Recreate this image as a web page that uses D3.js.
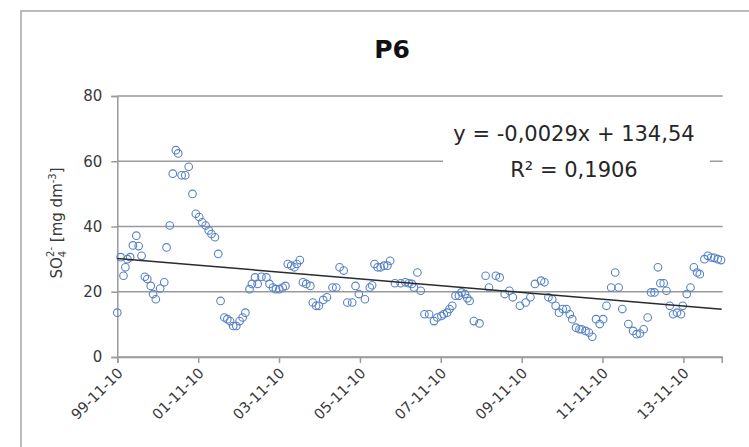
<!DOCTYPE html>
<html>
<head>
<meta charset="utf-8">
<script src="https://cdn.jsdelivr.net/npm/d3@7"></script>
<style>
  html, body { margin: 0; padding: 0; background: #ffffff; }
  svg { display: block; font-family: "DejaVu Sans", "Liberation Sans", sans-serif; }
</style>
</head>
<body>
<div id="chartP6"></div>
<script>
////////////////////////////////////////////////////////////////////////
// Data
////////////////////////////////////////////////////////////////////////
var sampleDates = [
  "1999-11-10","1999-12-10","2000-01-05","2000-01-22","2000-02-09","2000-03-05","2000-03-30","2000-04-30",
  "2000-05-21","2000-06-16","2000-07-16","2000-08-07","2000-09-07","2000-09-28","2000-10-23","2000-12-01",
  "2001-01-07","2001-01-28","2001-02-26","2001-03-25","2001-04-22","2001-05-13","2001-06-13","2001-07-16",
  "2001-08-16","2001-09-19","2001-10-19","2001-11-19","2001-12-16","2002-01-16","2002-02-13","2002-03-10",
  "2002-04-10","2002-05-10","2002-05-31","2002-07-04","2002-07-31","2002-08-25","2002-09-22","2002-10-20",
  "2002-11-19","2002-12-16","2003-01-10","2003-02-16","2003-03-10","2003-04-07","2003-05-01","2003-06-04",
  "2003-07-19","2003-08-16","2003-09-16","2003-10-13","2003-11-13","2003-12-13","2004-01-07","2004-01-28",
  "2004-02-28","2004-03-28","2004-04-19","2004-05-16","2004-06-13","2004-07-13","2004-08-19","2004-09-10",
  "2004-10-10","2004-11-04","2004-12-13","2005-01-16","2005-03-07","2005-04-10","2005-05-10","2005-06-16",
  "2005-07-19","2005-09-01","2005-10-01","2005-10-31","2005-12-25","2006-02-07","2006-02-28","2006-03-22",
  "2006-04-19","2006-05-16","2006-06-16","2006-07-16","2006-08-10","2006-09-22","2006-11-13","2006-12-25",
  "2007-01-25","2007-02-22","2007-03-13","2007-04-13","2007-05-13","2007-06-16","2007-07-28","2007-09-10",
  "2007-10-10","2007-11-16","2007-12-07","2008-01-07","2008-01-28","2008-02-22","2008-03-22","2008-04-22",
  "2008-05-16","2008-06-16","2008-07-07","2008-07-28","2008-09-04","2008-10-25","2008-12-19","2009-01-19",
  "2009-03-22","2009-04-25","2009-06-10","2009-07-22","2009-08-22","2009-10-25","2009-12-16","2010-01-28",
  "2010-03-10","2010-05-04","2010-06-04","2010-07-10","2010-08-13","2010-09-13","2010-10-13","2010-11-16",
  "2010-12-19","2011-01-19","2011-02-10","2011-03-16","2011-04-16","2011-05-07","2011-06-10","2011-07-10",
  "2011-08-10","2011-09-13","2011-10-16","2011-11-16","2011-12-16","2012-01-28","2012-03-04","2012-04-04",
  "2012-05-07","2012-07-01","2012-08-13","2012-09-13","2012-10-13","2012-11-16","2012-12-22","2013-01-22",
  "2013-02-22","2013-03-25","2013-04-16","2013-05-16","2013-06-10","2013-07-10","2013-08-10","2013-09-13",
  "2013-10-19","2013-11-04","2013-12-10","2014-01-13","2014-02-13","2014-03-13","2014-04-07","2014-05-19",
  "2014-06-19","2014-07-19","2014-08-16","2014-09-16","2014-10-16"
];

var sulfateValues = [
  13.6, 30.6, 24.9, 27.5, 30.0, 30.6, 34.2, 37.2,
  34.0, 31.0, 24.6, 23.9, 21.8, 19.3, 17.7, 21.0,
  22.9, 33.6, 40.3, 56.2, 63.4, 62.4, 55.7, 55.7,
  58.3, 50.0, 43.9, 42.9, 41.3, 40.3, 38.8, 37.7,
  36.7, 31.6, 17.2, 12.1, 11.6, 11.0,  9.5,  9.5,
  11.0, 12.1, 13.6, 20.8, 22.4, 24.4, 22.4, 24.6,
  24.4, 22.4, 21.3, 20.8, 20.8, 21.3, 21.8, 28.5,
  28.0, 27.5, 28.5, 29.7, 22.9, 22.4, 21.8, 16.7,
  15.7, 15.7, 17.5, 18.3, 21.3, 21.3, 27.5, 26.5,
  16.7, 16.7, 21.8, 19.3, 17.7, 21.3, 22.0, 28.5,
  27.5, 27.5, 28.0, 28.0, 29.5, 22.6, 22.6, 22.9,
  22.6, 22.4, 21.3, 25.9, 20.3, 13.1, 13.1, 11.0,
  12.1, 12.6, 13.1, 13.6, 14.7, 15.7, 18.8, 18.8,
  19.8, 19.3, 18.0, 17.2, 11.0, 10.3, 24.9, 21.3,
  24.9, 24.4, 19.3, 20.3, 18.3, 15.7, 16.7, 18.3,
  22.4, 23.4, 22.9, 18.3, 17.7, 15.7, 13.6, 14.7,
  14.7, 13.1, 11.6,  9.0,  8.5,  8.5,  8.0,  7.5,
   6.2, 11.6, 10.1, 11.6, 15.7, 21.3, 25.9, 21.3,
  14.7, 10.1,  8.0,  7.0,  7.2,  8.5, 12.1, 19.8,
  19.8, 27.5, 22.6, 22.6, 20.3, 15.7, 13.1, 13.6,
  13.1, 15.7, 19.3, 21.3, 27.5, 25.9, 25.4, 30.0,
  31.0, 30.5, 30.4, 30.0, 29.7
];

var xDomainDates = ["1999-11-10", "2014-10-22"];
var xTickDates = ["1999-11-10","2001-11-10","2003-11-10","2005-11-10","2007-11-10","2009-11-10","2011-11-10","2013-11-10"];
var yTickValues = [0, 20, 40, 60, 80];

// linear trend against the Excel date serial
var trendSlope = -0.00286;
var trendIntercept = 134.54;
var equationLines = ["y = -0,0029x + 134,54", "R\u00b2 = 0,1906"];
var chartTitle = "P6";


////////////////////////////////////////////////////////////////////////
//
// Will initialize
//
////////////////////////////////////////////////////////////////////////
function init()
  {
  createSulfateScatter('#chartP6');
  }


////////////////////////////////////////////////////////////////////////
//
// Days since 1899-12-30, the way the spreadsheet counts x
//
////////////////////////////////////////////////////////////////////////
function excelSerial(date)
  {
  return (date - Date.UTC(1899, 11, 30)) / 86400000;
  }


////////////////////////////////////////////////////////////////////////
//
// Build the scatter chart with gridlines, trend line and equation
//
////////////////////////////////////////////////////////////////////////
function createSulfateScatter(elementID)
  {
  var width = 749;
  var height = 447;

  //plot area edges
  var left = 117.3;
  var right = 721.7;
  var top = 96;
  var bottom = 357;

  var parseDate = d3.utcParse("%Y-%m-%d");
  var points = sampleDates.map(function(d, i) { return {date: parseDate(d), value: sulfateValues[i]}; });

  var svg = d3.select(elementID)
    .append('svg')
    .attr('width', width)
    .attr('height', height);

  svg.append('rect').attr('width', width).attr('height', height).attr('fill', '#ffffff');

  //outer chart frame, runs off the right and bottom of the picture
  svg.append('rect')
    .attr('x', 21).attr('y', 11)
    .attr('width', 760).attr('height', 460)
    .attr('fill', 'none')
    .attr('stroke', '#ababab')
    .attr('stroke-width', 1.6);

  var x = d3.scaleUtc().domain(xDomainDates.map(parseDate)).range([left, right]);
  var y = d3.scaleLinear().domain([0, 80]).range([bottom, top]);

  //horizontal gridlines with the y axis labels
  var yAxis = svg.append('g')
    .attr('transform', 'translate(' + left + ',0)')
    .call(d3.axisLeft(y).tickValues(yTickValues).tickSize(6).tickPadding(9).tickFormat(d3.format('d')));
  yAxis.select('.domain').attr('stroke', '#9a9a9a').attr('stroke-width', 1.5);
  yAxis.selectAll('.tick line').attr('stroke', '#9a9a9a').attr('stroke-width', 1.5);
  yAxis.selectAll('.tick text')
    .attr('fill', '#3a3a3a')
    .style('font-size', '15px')
    .style('font-family', '"DejaVu Sans", sans-serif');

  svg.append('g')
    .selectAll('line')
    .data(yTickValues)
    .enter()
    .append('line')
    .attr('x1', left).attr('x2', right + 1)
    .attr('y1', function(d) { return y(d); })
    .attr('y2', function(d) { return y(d); })
    .attr('stroke', '#9a9a9a')
    .attr('stroke-width', 1.5);

  //x axis with rotated date labels
  var xAxis = svg.append('g')
    .attr('transform', 'translate(0,' + bottom + ')')
    .call(d3.axisBottom(x).tickValues(xTickDates.map(parseDate)).tickSize(6).tickFormat(d3.utcFormat('%y-%m-%d')));
  xAxis.select('.domain').attr('stroke', '#9a9a9a').attr('stroke-width', 1.5);
  xAxis.selectAll('.tick line').attr('stroke', '#9a9a9a').attr('stroke-width', 1.5);
  xAxis.selectAll('.tick text')
    .attr('fill', '#3a3a3a')
    .attr('text-anchor', 'end')
    .attr('dy', null)
    .attr('y', 0)
    .attr('transform', 'translate(6,17) rotate(-45)')
    .style('font-size', '14.5px')
    .style('font-family', '"DejaVu Sans", sans-serif');

  //sample points
  svg.append('g')
    .selectAll('circle')
    .data(points)
    .enter()
    .append('circle')
    .attr('cx', function(d) { return x(d.date); })
    .attr('cy', function(d) { return y(d.value); })
    .attr('r', 3.8)
    .attr('fill', 'none')
    .attr('stroke', '#5682c4')
    .attr('stroke-width', 1.1);

  //trend line across the axis span
  var trendEnds = x.domain().map(function(d) { return {date: d, value: trendSlope * excelSerial(d) + trendIntercept}; });
  svg.append('path')
    .datum(trendEnds)
    .attr('d', d3.line().x(function(d) { return x(d.date); }).y(function(d) { return y(d.value); }))
    .attr('fill', 'none')
    .attr('stroke', '#2a2a2a')
    .attr('stroke-width', 1.5);

  //equation label sits on a white box over the gridline
  svg.append('rect')
    .attr('x', 443).attr('y', 116)
    .attr('width', 267).attr('height', 72)
    .attr('fill', '#ffffff');

  svg.append('g')
    .selectAll('text')
    .data(equationLines)
    .enter()
    .append('text')
    .attr('x', 574)
    .attr('y', function(d, i) { return 141 + i * 36; })
    .attr('text-anchor', 'middle')
    .attr('fill', '#262626')
    .style('font-size', '21px')
    .text(function(d) { return d; });

  //title
  svg.append('text')
    .attr('x', 392).attr('y', 58)
    .attr('text-anchor', 'middle')
    .attr('fill', '#111111')
    .style('font-size', '25px')
    .style('font-weight', 'bold')
    .text(chartTitle);

  //y axis title, SO4 2- [mg dm-3]
  var yTitle = svg.append('text')
    .attr('transform', 'translate(62,223) rotate(-90)')
    .attr('text-anchor', 'middle')
    .attr('fill', '#3a3a3a')
    .style('font-size', '15px');
  yTitle.append('tspan').text('SO');
  yTitle.append('tspan').attr('dy', 4).style('font-size', '10px').text('4');
  yTitle.append('tspan').attr('dx', -6).attr('dy', -12).style('font-size', '10px').text('2-');
  yTitle.append('tspan').attr('dy', 8).text(' [mg dm');
  yTitle.append('tspan').attr('dy', -6).style('font-size', '10px').text('-3');
  yTitle.append('tspan').attr('dy', 6).text(']');

  return;
  }

init();
</script>
</body>
</html>
